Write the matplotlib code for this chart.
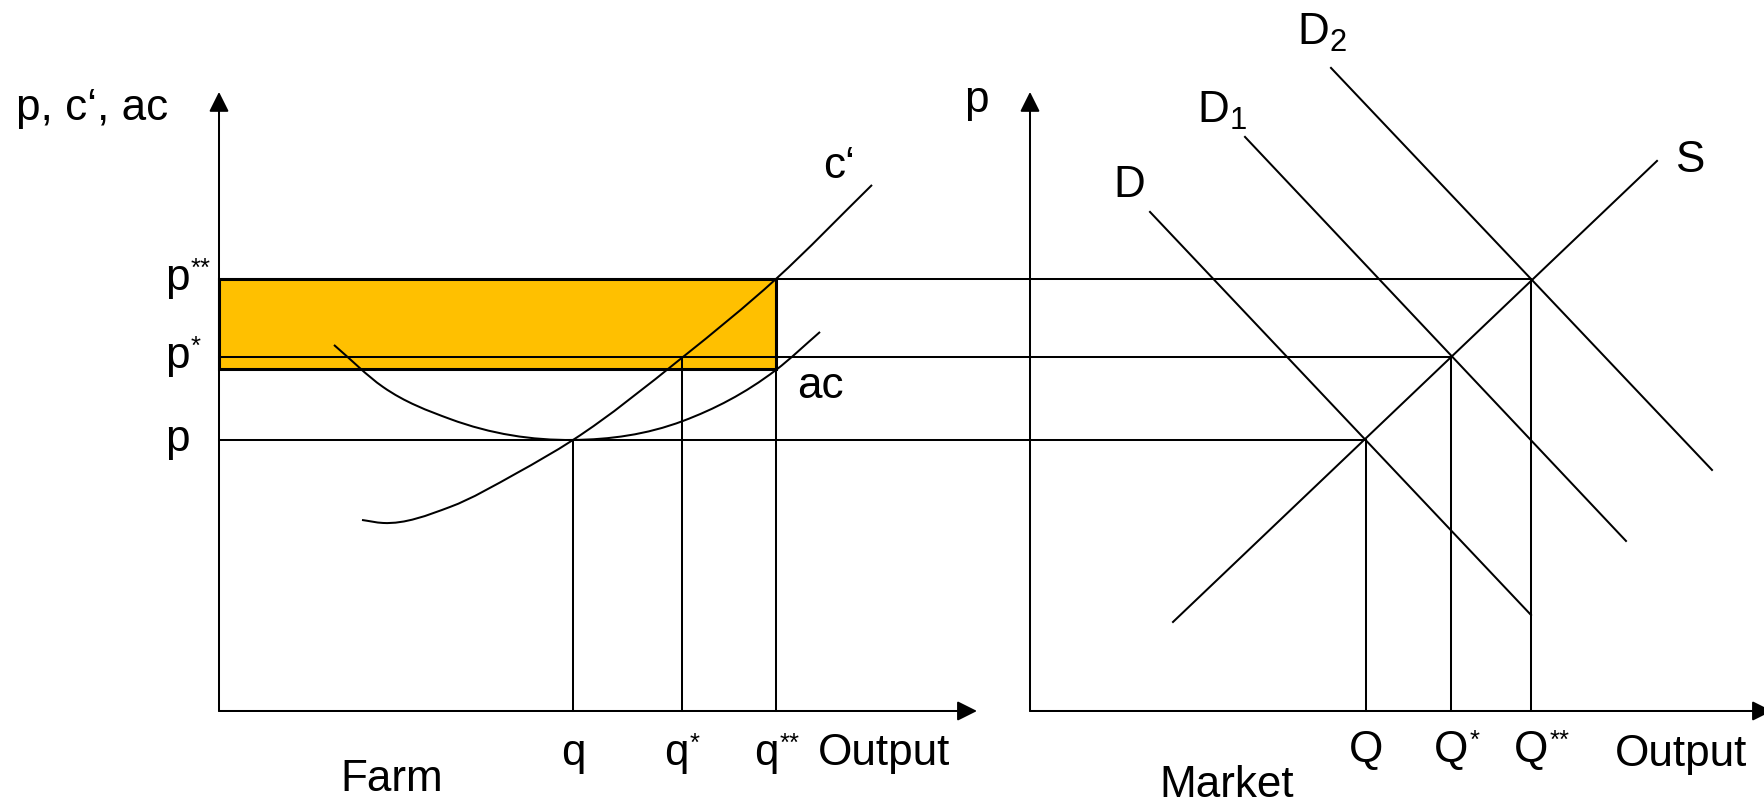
import matplotlib
matplotlib.use("Agg")
import matplotlib.pyplot as plt
from matplotlib.path import Path
from matplotlib.patches import PathPatch, Rectangle
from matplotlib.transforms import Affine2D

plt.rcParams['font.family'] = ['Liberation Sans', 'DejaVu Sans']
plt.rcParams['mathtext.fontset'] = 'custom'
plt.rcParams['mathtext.rm'] = 'Liberation Sans'
plt.rcParams['mathtext.it'] = 'Liberation Sans'
plt.rcParams['mathtext.bf'] = 'Liberation Sans:bold'
plt.rcParams['mathtext.default'] = 'rm'

# ---------------- data (diagram units, shared price scale) ----------------
price_labels = ['p', 'p*', 'p**']
prices = [271, 354, 432]                 # p, p*, p**

farm_labels = ['q', 'q*', 'q**']
farm_q = [354, 463, 557]                 # q, q*, q**
ac_at_q2 = 342                           # average cost at q** (bottom of rectangle)

market_labels = ['Q', 'Q*', 'Q**']
market_Q = [336, 421, 501]               # Q, Q*, Q**

# marginal cost c' (knots)
mc_q = [143, 164, 231, 298, 354, 464, 557, 653]
mc_p = [191, 188, 204, 238, 271, 354, 432, 526]
# average cost ac
ac_q = [115, 164, 231, 354, 464, 557, 601]
ac_p = [366, 324, 292, 271, 290, 341, 379]

# market supply and demand lines (end points)
supply_Q = [143, 627]
supply_P = [89, 550]
demand_names = ['D', 'D$_{1}$', 'D$_{2}$']
demand_Q = [[120, 501], [215, 596], [301, 682]]
demand_P = [[499, 96], [574, 170], [643, 241]]

# ---------------- layout ----------------
FIG_W, FIG_H = 1764, 803
FARM_X0 = 219          # pixel position of farm origin
BASE_Y = 711           # pixel position of both output axes
MARKET_OFFSET = 811    # market origin, in farm units
AXIS_TOP = 619
FARM_AXIS_END = 758
MARKET_AXIS_END = 742
FS = 31.7
FS_SUP = 18.5
LW = 1.45
FILL = '#FFC000'

fig = plt.figure(figsize=(FIG_W / 100, FIG_H / 100 + 0.001), dpi=100)
ax = fig.add_axes([0, 0, 1, 1])
ax.set_xlim(-FARM_X0, FIG_W - FARM_X0)
ax.set_ylim(BASE_Y - FIG_H, BASE_Y)
ax.axis('off')
mt = Affine2D().translate(MARKET_OFFSET, 0) + ax.transData


def smooth_path(xs, ys):
    """Cubic Hermite curve (as Bezier segments) through the knots."""
    n = len(xs)
    h = [xs[i + 1] - xs[i] for i in range(n - 1)]
    d = [(ys[i + 1] - ys[i]) / h[i] for i in range(n - 1)]
    m = [0.0] * n
    m[0] = d[0]
    m[-1] = d[-1]
    for i in range(1, n - 1):
        m[i] = (d[i - 1] * h[i] + d[i] * h[i - 1]) / (h[i - 1] + h[i])
    verts = [(xs[0], ys[0])]
    codes = [Path.MOVETO]
    for i in range(n - 1):
        t = h[i] / 3
        verts += [(xs[i] + t, ys[i] + m[i] * t),
                  (xs[i + 1] - t, ys[i + 1] - m[i + 1] * t),
                  (xs[i + 1], ys[i + 1])]
        codes += [Path.CURVE4] * 3
    return Path(verts, codes)


def label(x, y, text, ha='left', dx=0, transform=None):
    base = text.rstrip('*')
    stars = text[len(base):]
    kw = dict(fontsize=FS, va='baseline', ha=ha)
    if transform is not None:
        kw['transform'] = transform
    t = ax.text(x + dx, y, base, **kw)
    if stars:
        ax.annotate(stars, xy=(1, 0), xycoords=t, xytext=(0.8, 16.5),
                    textcoords='offset points', fontsize=FS_SUP,
                    ha='left', va='baseline')
    return t


arrow = dict(arrowstyle='-|>,head_length=0.8,head_width=0.4', lw=LW, color='k',
             shrinkA=0, shrinkB=0, mutation_scale=15)

# profit rectangle
ax.add_patch(Rectangle((0, ac_at_q2), farm_q[2], prices[2] - ac_at_q2,
                       facecolor=FILL, edgecolor='k', lw=2.2, zorder=1))

# axes with arrows
ax.annotate('', xy=(0, AXIS_TOP), xytext=(0, 0), arrowprops=arrow)
ax.annotate('', xy=(FARM_AXIS_END, 0), xytext=(0, 0), arrowprops=arrow)
ax.annotate('', xy=(0, AXIS_TOP), xytext=(0, 0), xycoords=mt, arrowprops=arrow)
ax.annotate('', xy=(MARKET_AXIS_END, 0), xytext=(0, 0), xycoords=mt, arrowprops=arrow)

# price lines across both panels, output verticals
for p, q, Q in zip(prices, farm_q, market_Q):
    ax.plot([0, MARKET_OFFSET + Q], [p, p], color='k', lw=LW, zorder=2)
    ax.plot([q, q], [0, p], color='k', lw=LW, zorder=2)
    ax.plot([Q, Q], [0, p], color='k', lw=LW, zorder=2, transform=mt)

# cost curves
ax.add_patch(PathPatch(smooth_path(mc_q, mc_p), fill=False, lw=LW, zorder=3))
ax.add_patch(PathPatch(smooth_path(ac_q, ac_p), fill=False, lw=LW, zorder=3))

# market lines
ax.plot(supply_Q, supply_P, color='k', lw=LW, transform=mt)
for dq, dp in zip(demand_Q, demand_P):
    ax.plot(dq, dp, color='k', lw=LW, transform=mt)

# ---------------- texts ----------------
label(-203, 591, 'p, c\u2018, ac')
for lab, p in zip(price_labels, prices):
    label(-54, p - 11, lab)
for lab, q, dx in zip(farm_labels, farm_q, [0, -6, -10]):
    label(q, -54, lab, ha='center', dx=dx)
label(599, -54, 'Output')
label(121, -80, 'Farm')
label(604, 533, 'c\u2018')
label(578, 313, 'ac')

label(-54, 599, 'p', ha='center', transform=mt)
for lab, Q in zip(market_labels, market_Q):
    label(Q, -51, lab, ha='center', transform=mt)
label(585, -55, 'Output', transform=mt)
label(129, -86, 'Market', transform=mt)
label_pos = [(83, 514), (167, 588), (267, 666)]
for name, (x, y) in zip(demand_names, label_pos):
    ax.text(x, y, name, ha='left', va='baseline', fontsize=FS, transform=mt)
label(645, 539, 'S', transform=mt)

fig.savefig('out.png', dpi=100)
